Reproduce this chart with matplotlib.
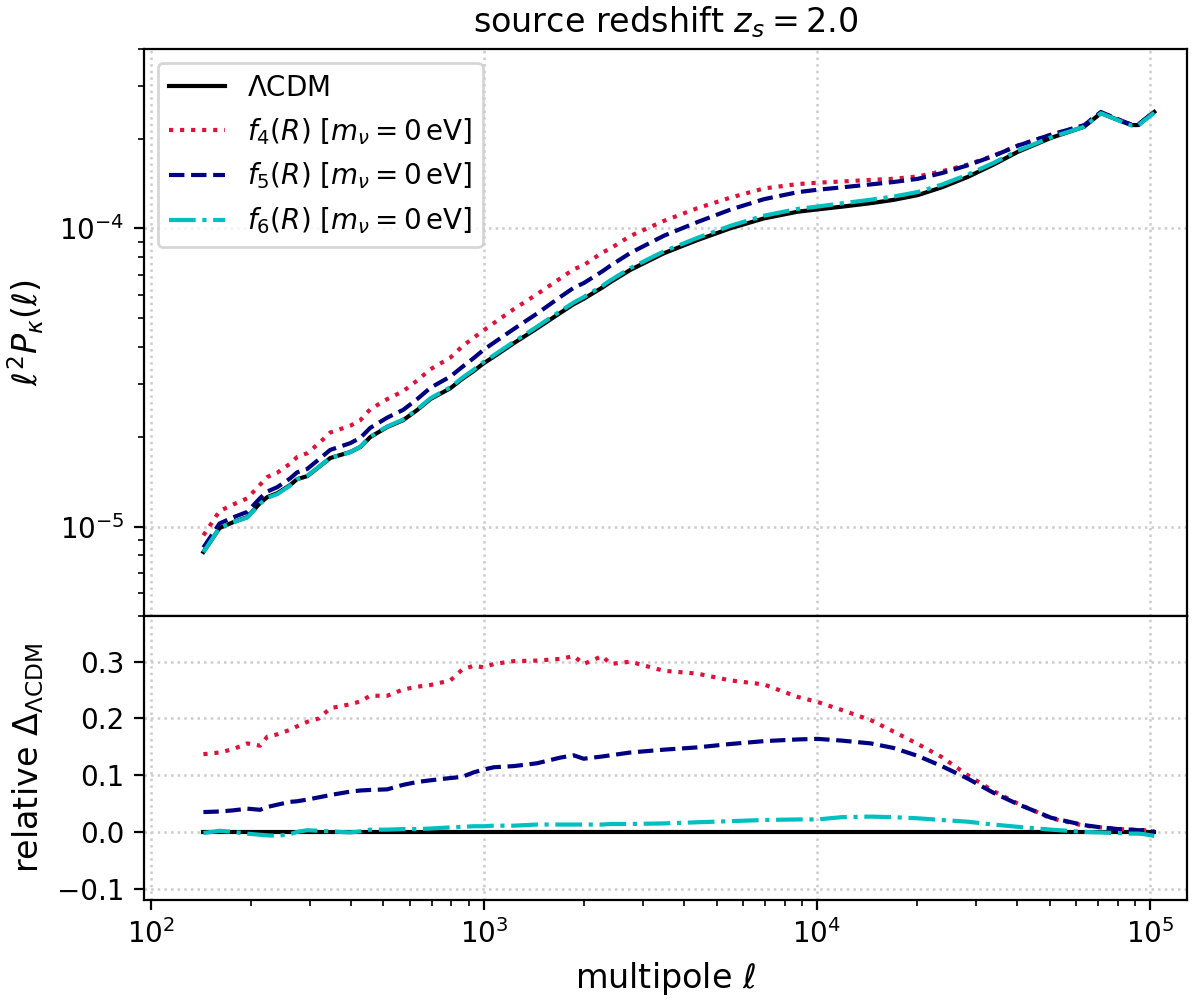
import matplotlib
matplotlib.use('Agg')
import matplotlib.pyplot as plt
import numpy as np

# multipoles
ell = [144, 161, 177, 195, 213, 224, 240, 262, 275, 295, 320, 346, 397, 426, 456,
       513, 573, 631, 692, 794, 861, 933, 1000, 1072, 1230, 1445, 1698, 1862, 1995,
       2270, 2399, 2754, 3475, 4375, 5508, 6934, 8750, 10050, 11860, 14520, 16980,
       20090, 23710, 28380, 33880, 40090, 50470, 63390, 71290, 80170, 87900, 92260,
       96160, 103000]

# l^2 P_kappa for LCDM
pk_lcdm = [8.22e-6, 9.89e-6, 1.035e-5, 1.076e-5, 1.199e-5, 1.256e-5, 1.294e-5, 1.377e-5,
           1.442e-5, 1.476e-5, 1.585e-5, 1.698e-5, 1.778e-5, 1.849e-5, 1.995e-5, 2.158e-5,
           2.275e-5, 2.460e-5, 2.679e-5, 2.911e-5, 3.126e-5, 3.327e-5, 3.532e-5, 3.715e-5,
           4.121e-5, 4.624e-5, 5.212e-5, 5.572e-5, 5.808e-5, 6.339e-5, 6.607e-5, 7.261e-5,
           8.260e-5, 9.141e-5, 1.002e-4, 1.081e-4, 1.138e-4, 1.159e-4, 1.183e-4, 1.216e-4,
           1.247e-4, 1.294e-4, 1.374e-4, 1.489e-4, 1.637e-4, 1.807e-4, 2.014e-4, 2.193e-4,
           2.438e-4, 2.312e-4, 2.223e-4, 2.223e-4, 2.312e-4, 2.460e-4]

# relative difference to LCDM
rel_f4 = [0.137, 0.140, 0.146, 0.156, 0.152, 0.168, 0.172, 0.180, 0.186, 0.194, 0.200,
          0.218, 0.225, 0.230, 0.240, 0.240, 0.251, 0.256, 0.259, 0.267, 0.286, 0.293,
          0.290, 0.296, 0.301, 0.302, 0.305, 0.310, 0.296, 0.310, 0.296, 0.300, 0.284,
          0.279, 0.267, 0.260, 0.238, 0.229, 0.215, 0.197, 0.177, 0.155, 0.132, 0.100,
          0.072, 0.050, 0.024, 0.011, 0.008, 0.005, 0.004, 0.003, 0.003, 0.001]
rel_f5 = [0.035, 0.036, 0.038, 0.041, 0.039, 0.044, 0.048, 0.053, 0.054, 0.057, 0.061,
          0.065, 0.071, 0.073, 0.074, 0.075, 0.083, 0.088, 0.091, 0.095, 0.097, 0.105,
          0.110, 0.114, 0.116, 0.121, 0.131, 0.135, 0.129, 0.133, 0.135, 0.140, 0.145,
          0.149, 0.155, 0.160, 0.163, 0.164, 0.161, 0.156, 0.148, 0.134, 0.116, 0.094,
          0.069, 0.049, 0.025, 0.012, 0.008, 0.005, 0.004, 0.003, 0.003, 0.000]
rel_f6 = [-0.002, 0.002, 0.000, -0.003, -0.005, -0.006, -0.007, -0.004, 0.000, 0.003,
          0.002, 0.001, -0.001, 0.001, 0.004, 0.004, 0.005, 0.005, 0.006, 0.008, 0.009,
          0.010, 0.010, 0.011, 0.011, 0.013, 0.013, 0.013, 0.013, 0.013, 0.014, 0.014,
          0.015, 0.017, 0.019, 0.021, 0.022, 0.022, 0.026, 0.027, 0.026, 0.024, 0.021,
          0.018, 0.013, 0.009, 0.004, 0.000, -0.001, -0.002, -0.003, -0.003, -0.004, -0.007]

labels = [r'$\Lambda$CDM',
          r'$f_4(R)\ [m_\nu = 0\,\mathrm{eV}]$',
          r'$f_5(R)\ [m_\nu = 0\,\mathrm{eV}]$',
          r'$f_6(R)\ [m_\nu = 0\,\mathrm{eV}]$']
colors = ['black', 'crimson', 'navy', 'c']
styles = ['-', ':', '--', '-.']

ell_a = np.array(ell)
lcdm = np.array(pk_lcdm)
rels = [np.zeros(len(ell)), np.array(rel_f4), np.array(rel_f5), np.array(rel_f6)]

fig = plt.figure(figsize=(6, 5), dpi=200)
gs = fig.add_gridspec(2, 1, height_ratios=[2, 1], hspace=0,
                      left=0.12, right=0.989, top=0.951, bottom=0.10)
ax1 = fig.add_subplot(gs[0])
ax2 = fig.add_subplot(gs[1], sharex=ax1)

for r, c, s, lab in zip(rels, colors, styles, labels):
    ax1.plot(ell_a, lcdm * (1 + r), color=c, ls=s, lw=1.5, label=lab)
    ax2.plot(ell_a, r, color=c, ls=s, lw=1.5)

ax1.set_xscale('log')
ax1.set_yscale('log')
ax1.set_xlim(95.5, 1.29e5)
ax1.set_ylim(5e-6, 4e-4)
ax2.set_ylim(-0.12, 0.38)
ax2.set_yticks([-0.1, 0.0, 0.1, 0.2, 0.3])

ax1.set_title(r'source redshift $z_s = 2.0$', fontsize=12)
ax1.set_ylabel(r'$\ell^2 P_\kappa(\ell)$', fontsize=12)
ax2.set_ylabel(r'relative $\Delta_\mathrm{\Lambda CDM}$', fontsize=12)
ax2.set_xlabel(r'multipole $\ell$', fontsize=12)
plt.setp(ax1.get_xticklabels(), visible=False)

for ax in (ax1, ax2):
    ax.grid(True, ls=':', color='#cccccc', lw=0.9)
    ax.tick_params(labelsize=10)

ax1.legend(loc='upper left', fontsize=10)
fig.align_ylabels([ax1, ax2])

plt.savefig('out.png', dpi=200)
